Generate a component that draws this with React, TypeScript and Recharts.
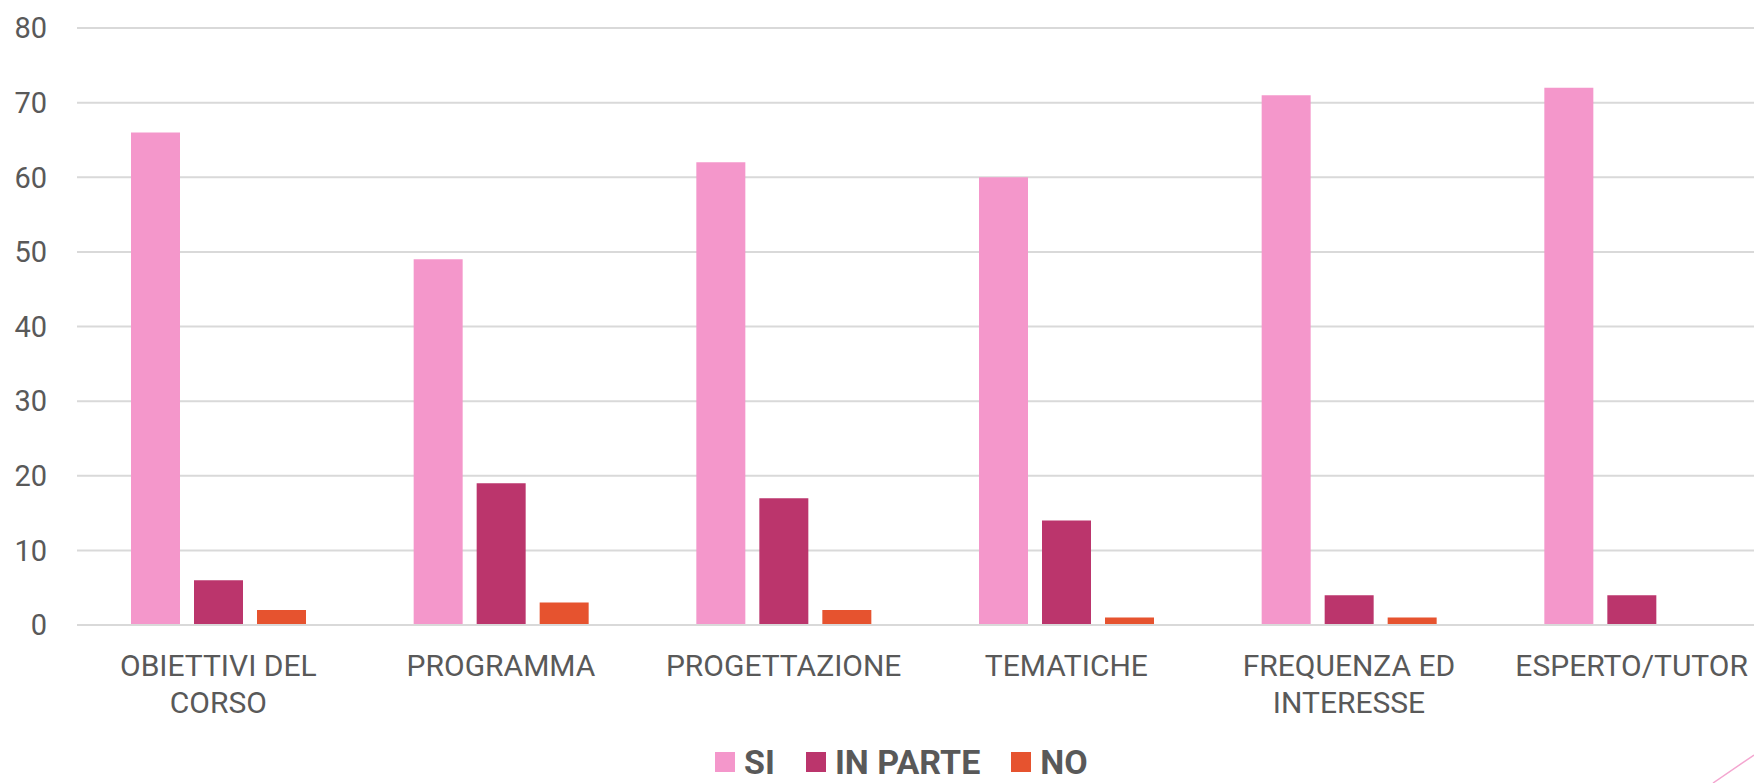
import React from 'react';
import { BarChart, Bar, XAxis, YAxis, CartesianGrid, Legend } from 'recharts';

const categories = ['OBIETTIVI DEL CORSO', 'PROGRAMMA', 'PROGETTAZIONE', 'TEMATICHE', 'FREQUENZA ED INTERESSE', 'ESPERTO/TUTOR'];
const siValues = [66, 49, 62, 60, 71, 72];
const inParteValues = [6, 19, 17, 14, 4, 4];
const noValues = [2, 3, 2, 1, 1, 0];
const yTicks = [0, 10, 20, 30, 40, 50, 60, 70, 80];
const seriesKeys = ['si', 'inParte', 'no'];
const seriesNames = ['SI', 'IN PARTE', 'NO'];
const seriesColors = ['#F497CB', '#BB356C', '#E6532F'];

const data = categories.map((c, i) => ({
  name: c,
  si: siValues[i],
  inParte: inParteValues[i],
  no: noValues[i],
}));

const FONT = 'Roboto, "Noto Sans", sans-serif';
const TEXT = '#595959';

function splitLabel(label: string, maxChars: number): string[] {
  const words = label.split(' ');
  const lines: string[] = [];
  let cur = '';
  for (const w of words) {
    const cand = cur ? cur + ' ' + w : w;
    if (cand.length > maxChars && cur) {
      lines.push(cur);
      cur = w;
    } else {
      cur = cand;
    }
  }
  if (cur) lines.push(cur);
  return lines;
}

const XTick = (props: any) => {
  const { x, y, payload } = props;
  const lines = splitLabel(String(payload.value), 14);
  return (
    <g>
      {lines.map((l, i) => (
        <text key={i} x={x} y={y + 51 + i * 36.5} textAnchor="middle" fill={TEXT} fontSize={30} fontFamily={FONT}>
          {l}
        </text>
      ))}
    </g>
  );
};

const LegendContent = () => (
  <div style={{ height: 42, boxSizing: 'border-box', display: 'flex', alignItems: 'center', paddingLeft: 715, fontFamily: FONT }}>
    {seriesNames.map((n, i) => (
      <div key={n} style={{ display: 'flex', alignItems: 'center', marginRight: 31 }}>
        <span style={{ width: 20, height: 20, background: seriesColors[i], display: 'inline-block', marginRight: 9 }} />
        <span style={{ fontSize: 34, fontWeight: 700, color: TEXT, lineHeight: '40px' }}>{n}</span>
      </div>
    ))}
  </div>
);

export default function App() {
  return (
    <div style={{ position: 'absolute', left: 0, top: 0, width: 1754, height: 783, overflow: 'hidden', background: '#fff' }}>
      <BarChart
        width={1780}
        height={783}
        data={data}
        margin={{ top: 28, right: 7, left: 0, bottom: 0 }}
        barSize={49}
        barGap={14}
      >
        <CartesianGrid vertical={false} stroke="#D9D9D9" strokeWidth={2} />
        <XAxis
          dataKey="name"
          height={116}
          tickLine={false}
          tickSize={0}
          tickMargin={0}
          axisLine={{ stroke: '#D9D9D9', strokeWidth: 2 }}
          tick={<XTick />}
          interval={0}
        />
        <YAxis
          width={77}
          domain={[0, 80]}
          ticks={yTicks}
          axisLine={false}
          tickLine={false}
          tickSize={0}
          tickMargin={30}
          tick={{ fill: TEXT, fontSize: 29, fontFamily: FONT }}
        />
        <Legend verticalAlign="bottom" wrapperStyle={{ height: 42 }} content={<LegendContent />} />
        {seriesKeys.map((k, i) => (
          <Bar key={k} dataKey={k} name={seriesNames[i]} fill={seriesColors[i]} isAnimationActive={false} />
        ))}
      </BarChart>
      <svg style={{ position: 'absolute', left: 0, top: 0, pointerEvents: 'none' }} width={1754} height={783}>
        <line x1={1713} y1={783} x2={1754} y2={755} stroke="#F4A6D0" strokeWidth={1.5} />
      </svg>
    </div>
  );
}
